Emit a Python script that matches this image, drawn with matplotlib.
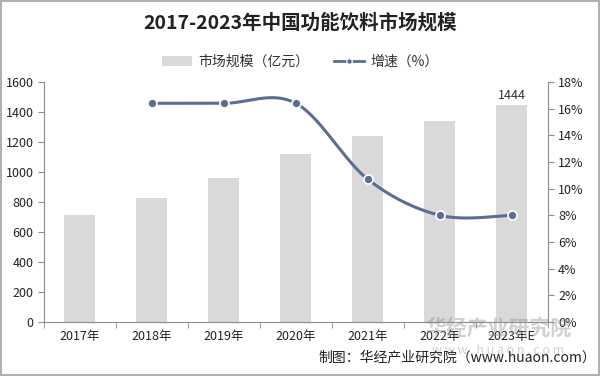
import matplotlib
matplotlib.use('Agg')
import matplotlib.pyplot as plt
import numpy as np
from matplotlib.lines import Line2D
from matplotlib.patches import Patch

plt.rcParams['font.family'] = ['Noto Sans CJK SC', 'DejaVu Sans']

years = ['2017年', '2018年', '2019年', '2020年', '2021年', '2022年', '2023年E']
market_size = [710, 826, 962, 1120, 1240, 1339, 1444]
growth_years = ['2018年', '2019年', '2020年', '2021年', '2022年', '2023年E']
growth_rate = [16.4, 16.4, 16.4, 10.7, 8.0, 8.0]

bar_color = '#d9d9db'
line_color = '#5a6e91'
axis_color = '#8c8c8c'


def smooth_curve(xs, ys, n=40):
    # Excel-style smoothed line: cubic Bezier with tension 1/6
    pts = np.column_stack([xs, ys]).astype(float)
    out = []
    for i in range(len(pts) - 1):
        p0 = pts[i - 1] if i > 0 else pts[i]
        p1 = pts[i]
        p2 = pts[i + 1]
        p3 = pts[i + 2] if i + 2 < len(pts) else pts[i + 1]
        c1 = p1 + (p2 - p0) / 6
        c2 = p2 - (p3 - p1) / 6
        t = np.linspace(0, 1, n)[:, None]
        seg = ((1 - t) ** 3) * p1 + 3 * ((1 - t) ** 2) * t * c1 + 3 * (1 - t) * t ** 2 * c2 + t ** 3 * p2
        out.append(seg if i == 0 else seg[1:])
    out = np.vstack(out)
    return out[:, 0], out[:, 1]


fig = plt.figure(figsize=(6, 3.76), dpi=100)
fig.patch.set_edgecolor('#b0b0b0')
fig.patch.set_linewidth(1.5)
ax = fig.add_axes([0.0733, 0.1436, 0.8397, 0.6384])

x = np.arange(len(years))
ax.bar(x, market_size, width=0.43, color=bar_color, zorder=2)
ax.set_xlim(-0.5, len(years) - 0.5)
ax.set_ylim(0, 1600)
ax.set_yticks(np.arange(0, 1601, 200))
ax.set_xticks(x)
ax.set_xticklabels(years)
ax.set_xticks(np.arange(-0.5, len(years), 1), minor=True)
ax.tick_params(axis='x', which='major', length=0, labelsize=9, pad=6, labelcolor='#222222')
ax.tick_params(axis='x', which='minor', length=4, color=axis_color)
ax.tick_params(axis='y', length=4, color=axis_color, labelsize=9, labelcolor='#222222')
for side in ['top', 'right']:
    ax.spines[side].set_visible(False)
for side in ['left', 'bottom']:
    ax.spines[side].set_color(axis_color)

ax.text(x[-1], market_size[-1] + 25, f'{market_size[-1]}', ha='center', va='bottom',
        fontsize=9, color='#333333')

ax2 = ax.twinx()
ax2.set_ylim(0, 18)
ax2.set_yticks(np.arange(0, 19, 2))
ax2.set_yticklabels([f'{v}%' for v in range(0, 19, 2)])
ax2.tick_params(axis='y', length=4, color=axis_color, labelsize=9, labelcolor='#222222')
for side in ['top', 'left', 'bottom']:
    ax2.spines[side].set_visible(False)
ax2.spines['right'].set_color(axis_color)

gx = np.array([years.index(g) for g in growth_years])
sx, sy = smooth_curve(gx, growth_rate)
ax2.plot(sx, sy, color=line_color, lw=2.2, zorder=3)
ax2.plot(gx, growth_rate, 'o', color=line_color, ms=6.5, mec='white', mew=1.2, zorder=4)

fig.text(0.5, 0.94, '2017-2023年中国功能饮料市场规模', ha='center', va='center',
         fontsize=14, fontweight='bold', color='#222222')

handles = [Patch(facecolor=bar_color, edgecolor='none'),
           Line2D([0], [0], color=line_color, lw=2, marker='o', ms=4, mec='white', mew=0.8)]
fig.legend(handles, ['市场规模（亿元）', '增速（%）'], loc='center', bbox_to_anchor=(0.5, 0.835),
           ncol=2, frameon=False, fontsize=10, handlelength=2.2, columnspacing=1.8,
           handletextpad=0.4, labelcolor='#333333')

# watermark
fig.text(0.83, 0.128, '华经产业研究院', ha='center', va='center', fontsize=15,
         color='#8a8a8a', alpha=0.4, fontweight='bold')
fig.text(0.83, 0.068, 'w w w . h u a o n . c o m', ha='center', va='center', fontsize=9,
         color='#8a8a8a', alpha=0.4)

fig.text(0.993, 0.05, '制图：华经产业研究院（www.huaon.com）', ha='right', va='center',
         fontsize=10, color='#222222')

fig.savefig('out.png', dpi=100, facecolor='white', edgecolor=fig.get_edgecolor())
